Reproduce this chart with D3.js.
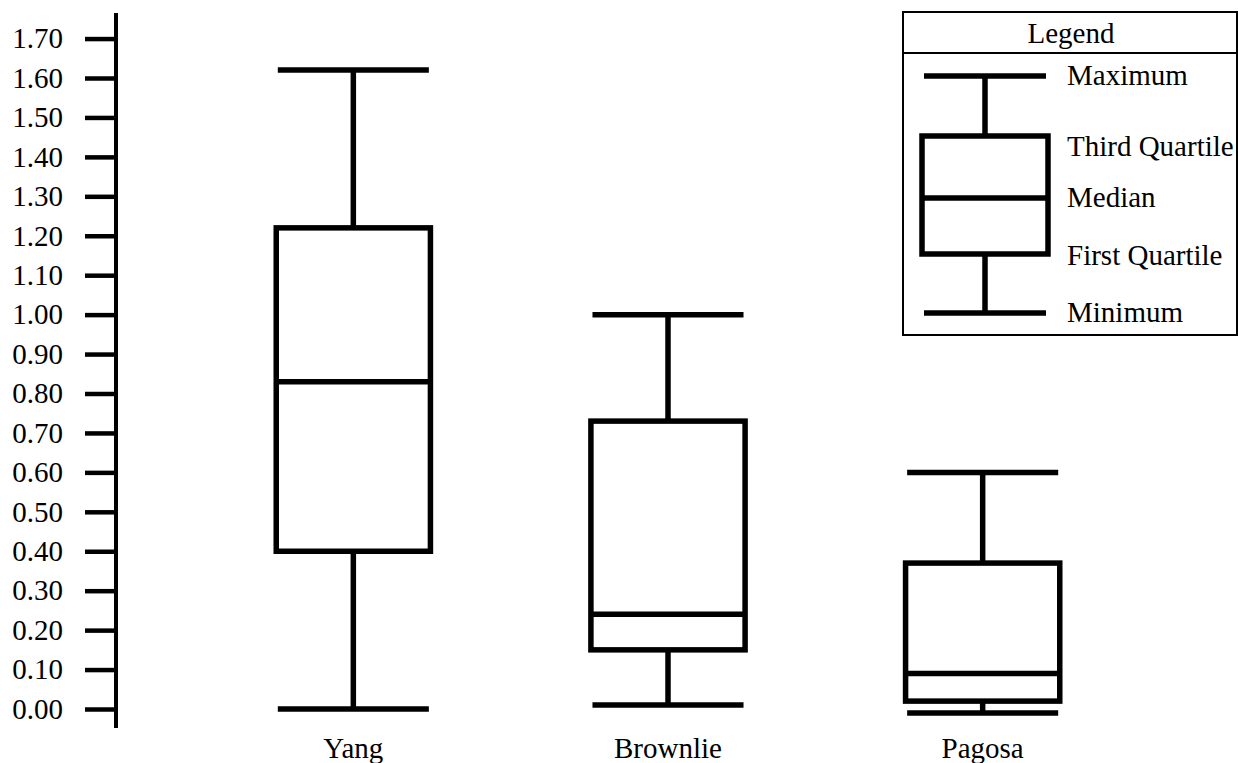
<!DOCTYPE html>
<html>
<head>
<meta charset="utf-8">
<script src="https://cdn.jsdelivr.net/npm/d3@7"></script>
<style>
  html, body { margin: 0; padding: 0; background: #fff; }
  svg { display: block; }
  svg text { font-family: 'Liberation Serif', 'Times New Roman', Tinos, 'DejaVu Serif', serif !important; fill: #000; }
</style>
</head>
<body>
<svg id="chart" width="1238" height="763"></svg>
<script>
// ---- data ----
const categories = ["Yang", "Brownlie", "Pagosa"];
const minimums = [0.00, 0.01, -0.01];
const firstQuartiles = [0.40, 0.15, 0.02];
const medians = [0.83, 0.24, 0.09];
const thirdQuartiles = [1.22, 0.73, 0.37];
const maximums = [1.62, 1.00, 0.60];
const tickValues = [0, 0.1, 0.2, 0.3, 0.4, 0.5, 0.6, 0.7, 0.8, 0.9, 1.0, 1.1, 1.2, 1.3, 1.4, 1.5, 1.6, 1.7];
const legendLabels = ["Maximum", "Third Quartile", "Median", "First Quartile", "Minimum"];

const FONT = "'Liberation Serif', 'Times New Roman', Tinos, 'DejaVu Serif', serif";
const FS = "29px";
const svg = d3.select("#chart");
svg.append("rect").attr("width", 1238).attr("height", 763).attr("fill", "#fff");

const y = d3.scaleLinear().domain([0, 1.6]).range([709, 78]);
const x = d3.scalePoint().domain(categories).range([196, 1140]).padding(0.5);
const boxW = x.step() * 0.49;
const capW = x.step() * 0.48;
const SW = 5.5;

// axis
const axisX = 116;
const axis = svg.append("g")
  .attr("transform", `translate(${axisX},0)`)
  .call(d3.axisLeft(y).tickValues(tickValues).tickFormat(d3.format(".2f"))
    .tickSize(31).tickPadding(22).tickSizeOuter(0));
axis.attr("font-family", FONT);
axis.select(".domain").remove();
axis.selectAll(".tick line").attr("stroke", "#000").attr("stroke-width", 4.5);
axis.selectAll(".tick text").style("font-family", FONT).style("font-size", FS).attr("fill", "#000");
svg.append("line").attr("x1", axisX).attr("x2", axisX).attr("y1", 13).attr("y2", 728)
  .attr("stroke", "#000").attr("stroke-width", 4);

// boxes
const data = categories.map((c, i) => ({
  c, min: minimums[i], q1: firstQuartiles[i], med: medians[i], q3: thirdQuartiles[i], max: maximums[i]
}));

const g = svg.append("g").attr("stroke", "#000").attr("stroke-width", SW).attr("fill", "none");
const bx = g.selectAll("g.box").data(data).join("g").attr("class", "box");

bx.append("line").attr("x1", d => x(d.c)).attr("x2", d => x(d.c))
  .attr("y1", d => y(d.max)).attr("y2", d => y(d.q3));
bx.append("line").attr("x1", d => x(d.c)).attr("x2", d => x(d.c))
  .attr("y1", d => y(d.q1)).attr("y2", d => y(d.min));
bx.append("line").attr("x1", d => x(d.c) - capW / 2).attr("x2", d => x(d.c) + capW / 2)
  .attr("y1", d => y(d.max)).attr("y2", d => y(d.max));
bx.append("line").attr("x1", d => x(d.c) - capW / 2).attr("x2", d => x(d.c) + capW / 2)
  .attr("y1", d => y(d.min)).attr("y2", d => y(d.min));
bx.append("rect").attr("x", d => x(d.c) - boxW / 2).attr("width", boxW)
  .attr("y", d => y(d.q3)).attr("height", d => y(d.q1) - y(d.q3)).attr("fill", "#fff");
bx.append("line").attr("x1", d => x(d.c) - boxW / 2).attr("x2", d => x(d.c) + boxW / 2)
  .attr("y1", d => y(d.med)).attr("y2", d => y(d.med));

// category labels
svg.selectAll("text.cat").data(categories).join("text").attr("class", "cat")
  .attr("x", d => x(d)).attr("y", 758).attr("text-anchor", "middle")
  .style("font-family", FONT).style("font-size", FS).text(d => d);

// legend
const lg = svg.append("g");
lg.append("rect").attr("x", 903).attr("y", 12).attr("width", 334).attr("height", 323)
  .attr("fill", "#fff").attr("stroke", "#000").attr("stroke-width", 2);
lg.append("line").attr("x1", 903).attr("x2", 1237).attr("y1", 53).attr("y2", 53)
  .attr("stroke", "#000").attr("stroke-width", 2);
lg.append("text").attr("x", 1071).attr("y", 43).attr("text-anchor", "middle")
  .style("font-family", FONT).style("font-size", FS).text("Legend");

const ly = [76, 136, 198, 254, 313];
const lcx = 985, lbw = 126, lcw = 122;
const lgs = lg.append("g").attr("stroke", "#000").attr("stroke-width", SW).attr("fill", "none");
lgs.append("line").attr("x1", lcx).attr("x2", lcx).attr("y1", ly[0]).attr("y2", ly[1]);
lgs.append("line").attr("x1", lcx).attr("x2", lcx).attr("y1", ly[3]).attr("y2", ly[4]);
lgs.append("line").attr("x1", lcx - lcw / 2).attr("x2", lcx + lcw / 2).attr("y1", ly[0]).attr("y2", ly[0]);
lgs.append("line").attr("x1", lcx - lcw / 2).attr("x2", lcx + lcw / 2).attr("y1", ly[4]).attr("y2", ly[4]);
lgs.append("rect").attr("x", lcx - lbw / 2).attr("width", lbw).attr("y", ly[1]).attr("height", ly[3] - ly[1]);
lgs.append("line").attr("x1", lcx - lbw / 2).attr("x2", lcx + lbw / 2).attr("y1", ly[2]).attr("y2", ly[2]);

const labelY = [75, 146, 197, 255, 312];
lg.selectAll("text.ll").data(legendLabels).join("text").attr("class", "ll")
  .attr("x", 1067).attr("y", (d, i) => labelY[i]).attr("dy", "0.35em")
  .style("font-family", FONT).style("font-size", FS).text(d => d);
</script>
</body>
</html>
